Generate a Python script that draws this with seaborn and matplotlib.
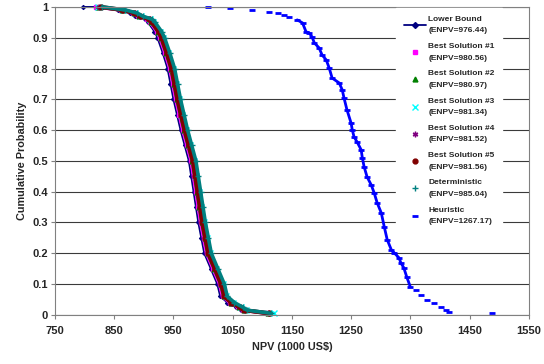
import matplotlib
matplotlib.use("Agg")
import matplotlib.pyplot as plt
import matplotlib.lines as mlines
import seaborn as sns

# cumulative probability levels shared by the clustered curves
prob_levels = [1.0, 0.99, 0.98, 0.97, 0.96, 0.95, 0.92, 0.90, 0.85, 0.80, 0.75, 0.70,
               0.65, 0.60, 0.55, 0.50, 0.45, 0.40, 0.35, 0.30, 0.25, 0.20, 0.15, 0.10,
               0.06, 0.04, 0.025, 0.015, 0.005]

lb_prob = [1.0] + prob_levels
lb_npv = [797, 821, 857, 877, 886, 902, 907, 918, 923, 932, 940, 945, 950, 956, 962,
          969, 976, 980, 984, 988, 992, 997, 1002, 1013, 1024, 1029, 1041, 1055, 1064, 1107]
bs1_npv = [819, 861, 881, 890, 906, 911, 922, 927, 936, 944, 949, 954, 960, 966, 973,
           980, 984, 988, 992, 996, 1001, 1006, 1017, 1028, 1033, 1045, 1059, 1067, 1108]
bs2_npv = [822, 863, 883, 892, 908, 913, 924, 929, 938, 946, 951, 956, 962, 968, 975,
           982, 986, 990, 994, 998, 1003, 1008, 1019, 1030, 1035, 1047, 1061, 1069, 1109]
bs3_npv = [823, 865, 886, 895, 911, 916, 927, 932, 941, 949, 954, 959, 965, 971, 978,
           985, 989, 993, 997, 1001, 1006, 1011, 1022, 1033, 1038, 1050, 1064, 1072, 1120]
bs4_npv = [825, 865, 885, 894, 910, 915, 926, 931, 940, 948, 953, 958, 964, 970, 977,
           984, 988, 992, 996, 1000, 1005, 1010, 1021, 1032, 1037, 1049, 1063, 1071, 1111]
bs5_npv = [827, 864, 884, 893, 909, 914, 925, 930, 939, 947, 952, 957, 963, 969, 976,
           983, 987, 991, 995, 999, 1004, 1009, 1020, 1031, 1036, 1048, 1062, 1070, 1112]
det_npv = [830, 869, 889, 898, 914, 919, 930, 935, 944, 952, 957, 962, 968, 974, 981,
           988, 992, 996, 1000, 1004, 1009, 1014, 1025, 1036, 1041, 1053, 1067, 1075, 1115]

heur_npv = [1008, 1045, 1082, 1112, 1126, 1137, 1146, 1159, 1168, 1174, 1179, 1184, 1188,
            1196, 1201, 1208, 1213, 1218, 1230, 1235, 1238, 1243, 1250, 1252, 1255, 1260,
            1267, 1269, 1272, 1277, 1284, 1289, 1294, 1301, 1306, 1311, 1318, 1323, 1331,
            1334, 1339, 1344, 1350, 1360, 1368, 1378, 1390, 1402, 1410, 1415, 1488]
heur_prob = [1.0, 0.997, 0.990, 0.984, 0.981, 0.974, 0.968, 0.958, 0.948, 0.919, 0.916,
             0.903, 0.883, 0.867, 0.844, 0.828, 0.802, 0.769, 0.753, 0.731, 0.705, 0.666,
             0.623, 0.601, 0.578, 0.562, 0.536, 0.510, 0.481, 0.448, 0.422, 0.396, 0.364,
             0.331, 0.286, 0.244, 0.211, 0.201, 0.185, 0.169, 0.153, 0.123, 0.091, 0.081,
             0.065, 0.049, 0.039, 0.026, 0.016, 0.010, 0.006]

labels = ["Lower Bound\n(ENPV=976.44)", "Best Solution #1\n(ENPV=980.56)",
          "Best Solution #2\n(ENPV=980.97)", "Best Solution #3\n(ENPV=981.34)",
          "Best Solution #4\n(ENPV=981.52)", "Best Solution #5\n(ENPV=981.56)",
          "Deterministic\n(ENPV=985.04)", "Heuristic\n(ENPV=1267.17)"]
x_ticks = [750, 850, 950, 1050, 1150, 1250, 1350, 1450, 1550]
y_ticks = [0, 0.1, 0.2, 0.3, 0.4, 0.5, 0.6, 0.7, 0.8, 0.9, 1]
y_tick_labels = ["0", "0.1", "0.2", "0.3", "0.4", "0.5", "0.6", "0.7", "0.8", "0.9", "1"]

sns.set_style("white")
plt.rcParams['font.family'] = ['Liberation Sans', 'DejaVu Sans']
plt.rcParams['font.weight'] = 'bold'

fig = plt.figure(figsize=(5.44, 3.64), dpi=100)
ax = fig.add_axes([0.101, 0.135, 0.871, 0.846])

for y in y_ticks:
    ax.axhline(y, color='#3a3a3a', lw=0.8, zorder=0)

# (npv, colour, marker, size, line width)
styles = [
    (bs1_npv, '#FF00FF', 's', 3.5, 2.5),
    (bs2_npv, '#008000', '^', 3.5, 2.5),
    (bs3_npv, '#00FFFF', 'x', 4, 2.5),
    (bs4_npv, '#800080', (6, 2, 0), 4, 2.5),
    (bs5_npv, '#800000', 'o', 3.5, 3.0),
    (det_npv, '#008080', '+', 4.5, 2.6),
]

sns.lineplot(x=lb_npv, y=lb_prob, color='#000080', marker='D', markersize=2.2,
             markeredgecolor='#000080', lw=1.3, sort=False, estimator=None, ax=ax,
             clip_on=False)
for npv, col, mk, ms, lw in styles:
    sns.lineplot(x=npv, y=prob_levels, color=col, marker=mk, markersize=ms, lw=lw,
                 markeredgecolor=col, markeredgewidth=1, sort=False, estimator=None,
                 ax=ax, clip_on=False)

# heuristic: dense middle as a solid run of dashes, tails as separate dashes
sns.lineplot(x=heur_npv[7:43], y=heur_prob[7:43], color='#0000FF', lw=2.0,
             sort=False, estimator=None, ax=ax, clip_on=False)
sns.lineplot(x=heur_npv, y=heur_prob, color='#0000FF', lw=0, marker='_',
             markersize=4, markeredgewidth=2.0, markeredgecolor='#0000FF',
             sort=False, estimator=None, ax=ax, clip_on=False)

ax.set_xlim(750, 1550)
ax.set_ylim(0, 1)
ax.set_xticks(x_ticks)
ax.set_xticklabels([str(t) for t in x_ticks], fontsize=8, fontweight='bold')
ax.set_yticks(y_ticks)
ax.set_yticklabels(y_tick_labels, fontsize=8, fontweight='bold')
ax.tick_params(axis='both', direction='out', length=3, width=0.8, color='#808080',
               pad=2, bottom=True, left=True)
ax.tick_params(axis='x', pad=5)
for sp in ax.spines.values():
    sp.set_color('#808080')
    sp.set_linewidth(0.8)
ax.set_xlabel("NPV (1000 US$)", fontsize=7.8, fontweight='bold', labelpad=4)
ax.set_ylabel("Cumulative Probability", fontsize=7.8, fontweight='bold', labelpad=4)

handles = [mlines.Line2D([], [], color='#000080', marker='D', markersize=3, lw=1.3)]
for npv, col, mk, ms, lw in styles:
    handles.append(mlines.Line2D([], [], color=col, marker=mk, markersize=ms,
                                 markeredgewidth=1, lw=0))
handles.append(mlines.Line2D([], [], color='#0000FF', marker='_', markersize=4,
                             markeredgewidth=2, lw=0))
leg = ax.legend(handles, labels, loc='upper left', bbox_to_anchor=(0.72, 0.995),
                fontsize=6, frameon=True, facecolor='white', edgecolor='white',
                framealpha=1, fancybox=False, handlelength=2.7, handletextpad=0.25,
                labelspacing=1.05, borderpad=0.9, borderaxespad=0)
leg.set_zorder(5)
for t in leg.get_texts():
    t.set_fontweight('bold')
    t.set_linespacing(1.9)

fig.savefig("out.png", dpi=100)
